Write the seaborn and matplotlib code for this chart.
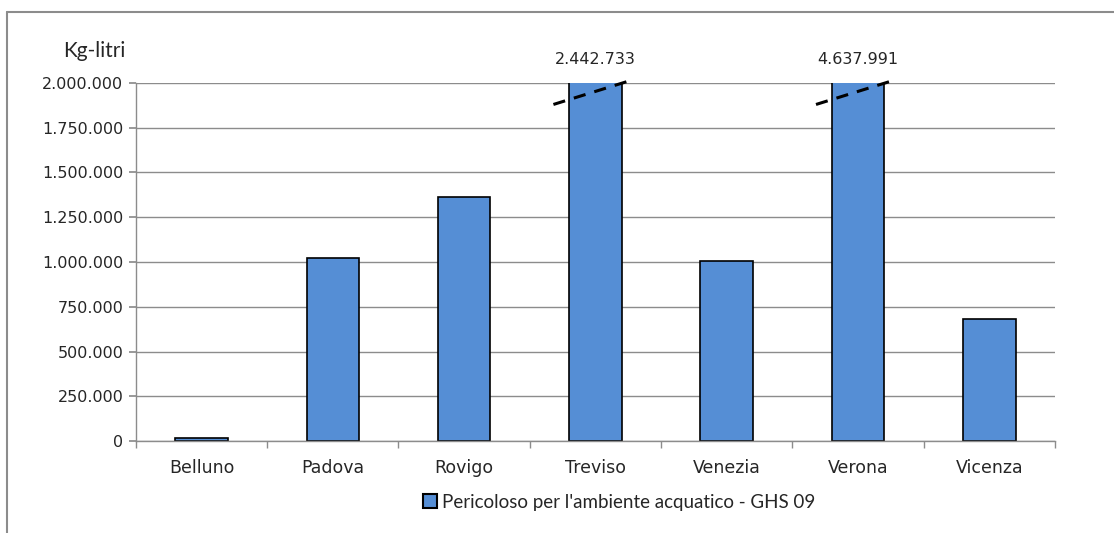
import numpy as np
import pandas as pd
import matplotlib
matplotlib.use('Agg')
import matplotlib.pyplot as plt
from matplotlib.ticker import FuncFormatter, MultipleLocator
from matplotlib.lines import Line2D
from matplotlib.patches import Patch
import seaborn as sns

# data
province = ['Belluno', 'Padova', 'Rovigo', 'Treviso', 'Venezia', 'Verona', 'Vicenza']
kg_litri = [18000, 1025000, 1365000, 2442733, 1008000, 4637991, 680000]
y_max = 2000000
series_name = "Pericoloso per l'ambiente acquatico - GHS 09"

def dotted(v):
    return f"{int(v):,}".replace(',', '.')

sns.set_theme(style='white')
plt.rcParams['font.family'] = ['DejaVu Sans']

df = pd.DataFrame({'provincia': province, 'valore': kg_litri})

fig = plt.figure(figsize=(11.14, 5.33), dpi=100)
ax = fig.add_axes([0.122, 0.1726, 0.825, 0.6717])

sns.barplot(data=df, x='provincia', y='valore', color='#558ED5', saturation=1,
            edgecolor='black', linewidth=1.2, width=0.4, ax=ax)

ax.set_ylim(0, y_max)
ax.set_xlim(-0.5, len(province) - 0.5)
ax.yaxis.set_major_locator(MultipleLocator(250000))
ax.yaxis.set_major_formatter(FuncFormatter(lambda v, p: dotted(v)))
ax.grid(axis='y', color='#8c8c8c', linewidth=1)
ax.set_axisbelow(True)
for s in ['top', 'right']:
    ax.spines[s].set_visible(False)
for s in ['left', 'bottom']:
    ax.spines[s].set_color('#8c8c8c')
    ax.spines[s].set_linewidth(1)
ax.set_xlabel('')
ax.set_ylabel('')
ax.tick_params(axis='y', left=True, length=5, color='#8c8c8c', labelsize=11.5, pad=4)
ax.tick_params(axis='x', bottom=False, labelsize=12.5, pad=7)
# category boundary ticks on the x axis
ax.set_xticks(np.arange(-0.5, len(province)), minor=True)
ax.tick_params(axis='x', which='minor', bottom=True, length=5, color='#8c8c8c', direction='out')

# break marks and labels for the bars above the axis limit
for i, v in enumerate(kg_litri):
    if v > y_max:
        ax.plot([i - 0.32, i + 0.25], [y_max * 0.94, y_max * 1.005], color='black',
                linestyle=(0, (4, 3)), linewidth=2.2, clip_on=False, zorder=5)
        ax.text(i, y_max * 1.045, dotted(v), ha='center', va='bottom', fontsize=11.5)

fig.text(0.1125, 0.905, 'Kg-litri', ha='right', va='center', fontsize=15, family='Lato')

handle = Patch(facecolor='#558ED5', edgecolor='black', linewidth=1.5)
fig.legend([handle], [series_name], loc='center', bbox_to_anchor=(0.556, 0.058),
           frameon=False, prop={'family': 'Lato', 'size': 13.5},
           handlelength=0.75, handleheight=0.75, handletextpad=0.25)

# outer chart frame (left and top edges visible)
fig.add_artist(Line2D([0.0065, 0.0065], [0, 0.978], color='#8c8c8c', linewidth=1.5))
fig.add_artist(Line2D([0.0065, 1], [0.978, 0.978], color='#8c8c8c', linewidth=1.5))

fig.savefig('out.png', dpi=100)
